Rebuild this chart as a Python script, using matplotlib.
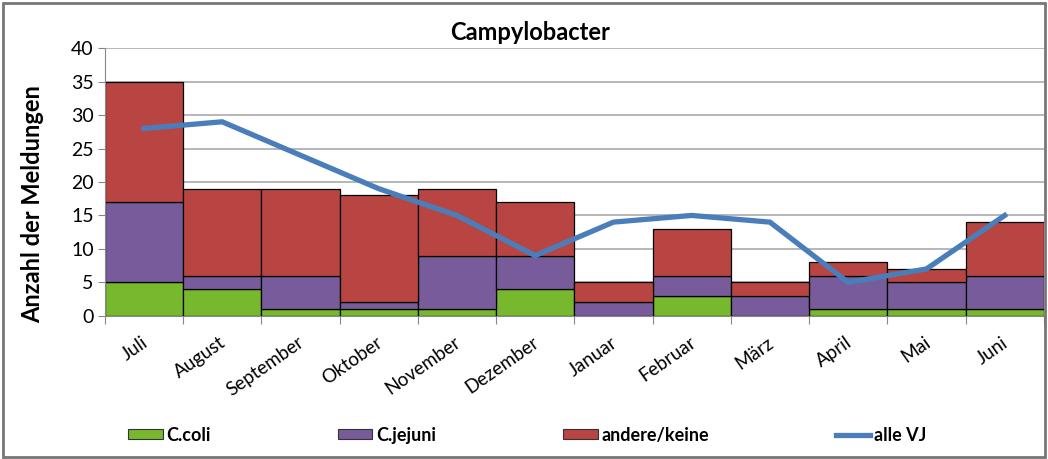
import matplotlib
matplotlib.use("Agg")
import matplotlib.pyplot as plt
import matplotlib.patches as mpatches
import matplotlib.transforms as mtrans
from matplotlib.lines import Line2D
import numpy as np

months = ["Juli", "August", "September", "Oktober", "November", "Dezember",
          "Januar", "Februar", "März", "April", "Mai", "Juni"]
c_coli = [5, 4, 1, 1, 1, 4, 0, 3, 0, 1, 1, 1]
c_jejuni = [12, 2, 5, 1, 8, 5, 2, 3, 3, 5, 4, 5]
andere = [18, 13, 13, 16, 10, 8, 3, 7, 2, 2, 2, 8]
alle_vj = [28, 29, 24, 19, 15, 9, 14, 15, 14, 5, 7, 15]

plt.rcParams['font.family'] = ['Lato', 'DejaVu Sans']

fig = plt.figure(figsize=(10.48, 4.59), dpi=100)
ax = fig.add_axes([0.100, 0.312, 0.896, 0.583])

x = np.arange(len(months))
green = "#77B82F"
purple = "#775B9A"
red = "#B94542"
blue = "#4A7EBB"

ax.bar(x, c_coli, width=1.0, color=green, edgecolor="black", linewidth=0.9, zorder=2)
ax.bar(x, c_jejuni, width=1.0, bottom=c_coli, color=purple, edgecolor="black", linewidth=0.9, zorder=2)
bot2 = np.array(c_coli) + np.array(c_jejuni)
ax.bar(x, andere, width=1.0, bottom=bot2, color=red, edgecolor="black", linewidth=0.9, zorder=2)
ax.plot(x, alle_vj, color=blue, linewidth=3.8, zorder=3, solid_joinstyle="miter")

ax.set_xlim(-0.5, len(months) - 0.5)
ax.set_ylim(0, 40)
ax.set_yticks(range(0, 41, 5))
ax.tick_params(axis="y", labelsize=14, length=5, color="#888888", direction="out", pad=3)
ax.set_xticks(np.arange(-0.5, len(months), 1.0))
ax.set_xticklabels([])
ax.set_xticks(x, minor=True)
ax.set_xticklabels(months, minor=True, rotation=35, ha="right", va="center",
                   rotation_mode="anchor", fontsize=13.5)
ax.tick_params(axis="x", which="major", length=6, color="#888888", direction="out")
ax.tick_params(axis="x", which="minor", length=0, pad=18)
offset = mtrans.ScaledTranslation(0.02, 0.0, fig.dpi_scale_trans)
for lbl in ax.get_xticklabels(minor=True):
    lbl.set_transform(lbl.get_transform() + offset)

ax.grid(axis="y", color="#AAAAAA", linewidth=1.2, zorder=0)
ax.set_axisbelow(True)
for s in ["top", "right"]:
    ax.spines[s].set_visible(False)
ax.spines["left"].set_color("#888888")
ax.spines["bottom"].set_color("#888888")

ax.set_ylabel("Anzahl der Meldungen", fontsize=17, fontweight="bold")
ax.yaxis.set_label_coords((44 - 105) / 939, (316 - 204) / 268)
fig.text(530 / 1048, 1 - 33 / 459, "Campylobacter", fontsize=17, fontweight="bold",
         ha="center", va="center")

handles = [mpatches.Patch(facecolor=green, edgecolor="#333333", linewidth=0.8),
           mpatches.Patch(facecolor=purple, edgecolor="#333333", linewidth=0.8),
           mpatches.Patch(facecolor=red, edgecolor="#333333", linewidth=0.8),
           Line2D([0], [0], color=blue, linewidth=3.8)]
labels = ["C.coli", "C.jejuni", "andere/keine", "alle VJ"]
fig.legend(handles, labels, loc="center left", bbox_to_anchor=(0.107, 0.052),
           ncol=4, frameon=False, handlelength=1.9, handleheight=0.5, handletextpad=0.2,
           columnspacing=7.05, prop={"weight": "bold", "size": 13})

border = mpatches.Rectangle((0.003, 0.004), 0.994, 0.99, transform=fig.transFigure,
                            fill=False, edgecolor="#777777", linewidth=2.0)
fig.patches.append(border)

fig.savefig("out.png", dpi=100)
